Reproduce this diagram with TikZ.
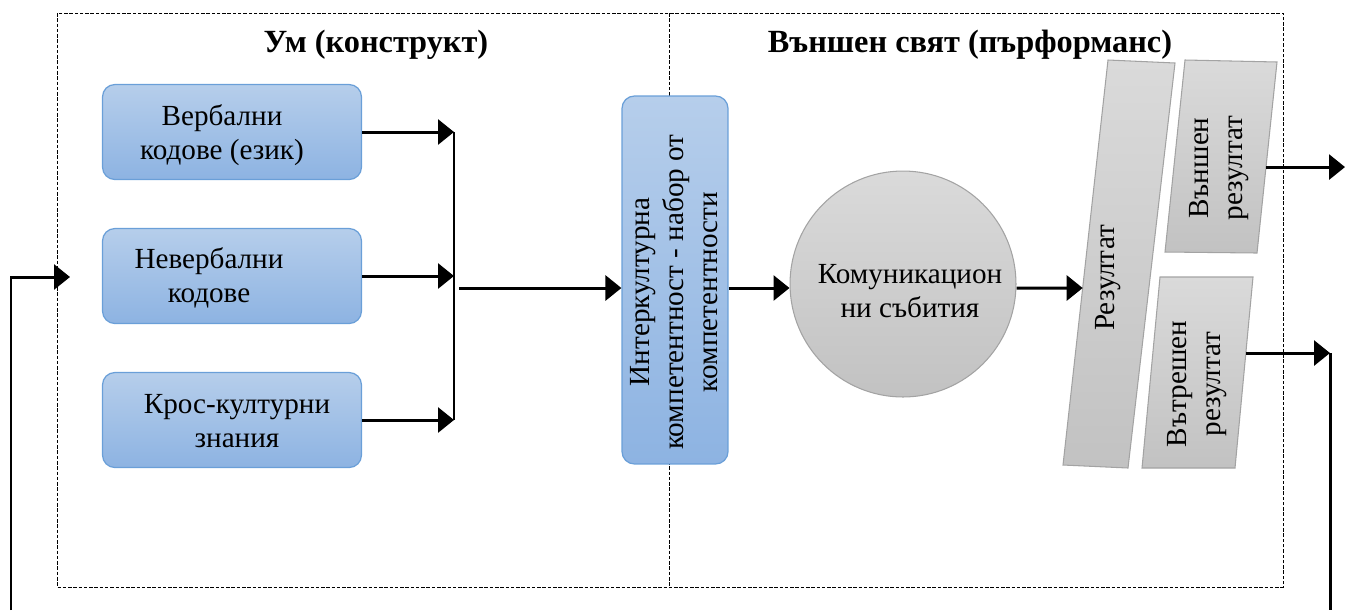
\documentclass[tikz,border=0pt]{standalone}
\usepackage{fontspec}
\setmainfont{Liberation Serif}
\usetikzlibrary{arrows.meta, calc}

\definecolor{boxtop}{HTML}{B6CEEB}
\definecolor{boxbot}{HTML}{8DB3E2}
\definecolor{boxline}{HTML}{6A9FD8}
\definecolor{greytop}{HTML}{DADADA}
\definecolor{greybot}{HTML}{C2C2C2}
\definecolor{greyline}{HTML}{A3A3A3}

\begin{document}
\begin{tikzpicture}[x=0.02cm, y=-0.02cm,
    codebox/.style={draw=boxline, line width=0.7pt, rounded corners=7pt,
        top color=boxtop, bottom color=boxbot,
        minimum width=5.18cm, minimum height=1.9cm},
    lbl/.style={font=\fontsize{16.6}{19.3}\selectfont, align=center, inner sep=0pt},
    head/.style={font=\fontsize{18.4}{21}\selectfont\bfseries, anchor=base},
    slab/.style={draw=greyline, line width=0.6pt, top color=greytop, bottom color=greybot},
    arr/.style={line width=1.7pt, -{Triangle[length=0.32cm, width=0.5cm]}},
    link/.style={line width=1.7pt},
    frame/.style={line width=0.5pt, dash pattern=on 2pt off 1pt}]
    \useasboundingbox (0,0) rectangle (1345,610);

    % Two halves: mind and outer world
    \draw[frame] (57,13) rectangle (1283,587);
    \draw[frame] (669,13) -- (669,587);
    \node[head] at (376,52) {Ум (конструкт)};
    \node[head] at (970,52) {Външен свят (пърформанс)};

    % Main axis and the collecting bar
    \coordinate (axis) at (0,288);
    \coordinate (bus) at (454,0);

    % Codes and knowledge (left column)
    \node[codebox] (verb) at (232,132) {};
    \node[lbl] at (222,135) {Вербални\\кодове (език)};
    \node[codebox] (nonverb) at (232,276) {};
    \node[lbl] at (209,278) {Невербални\\кодове};
    \node[codebox] (cross) at (232,420) {};
    \node[lbl] at (237,421) {Крос-културни\\знания};

    \draw[arr] (verb.east) -- (verb.east -| bus);
    \draw[arr] (nonverb.east) -- (nonverb.east -| bus);
    \draw[arr] (cross.east) -- (cross.east -| bus);
    \draw[link] (verb.east -| bus) -- (cross.east -| bus);

    % Intercultural competence
    \node[codebox, minimum width=2.12cm, minimum height=7.36cm] (icc) at (675,280) {};
    \node[lbl, rotate=90] at (674,292) {Интеркултурна\\компетентност - набор от\\компетентности};
    \draw[arr] ([xshift=3pt]bus |- axis) -- (icc.west |- axis);

    % Communication events
    \node[circle, draw=greyline, line width=0.6pt, top color=greytop, bottom color=greybot,
        minimum size=4.52cm] (events) at (903,284) {};
    \node[lbl] at (910,291) {Комуникацион\\ни събития};
    \draw[arr] (icc.east |- axis) -- (events.west |- axis);

    % Results
    \shade[slab] (1108,60) coordinate (res-nw) -- (1175,63) -- (1128,468)
        -- (1063,465) coordinate (res-sw) -- cycle;
    \node[lbl, rotate=90] at (1108,278) {Резултат};
    \path (res-nw) -- (res-sw) coordinate[pos=0.563] (res-in);

    \shade[slab] (1185,60) -- (1277,62) coordinate (outer-ne) -- (1257,253) coordinate (outer-se)
        -- (1165,252) -- cycle;
    \node[lbl, rotate=90] at (1219,168) {Външен\\резултат};
    \path (outer-ne) -- (outer-se) coordinate[pos=0.55] (outer-out);

    \shade[slab] (1160,277) -- (1253,277) coordinate (inner-ne) -- (1235,468) coordinate (inner-se)
        -- (1142,468) -- cycle;
    \node[lbl, rotate=90] at (1197,384) {Вътрешен\\резултат};
    \path (inner-ne) -- (inner-se) coordinate[pos=0.398] (inner-out);

    \draw[arr] (events.east |- axis) -- (res-in);

    % Outgoing results and feedback loop
    \coordinate (outer-end) at (1345,167);
    \coordinate (loop-r) at (1330,353);
    \coordinate (loop-rb) at (1330,610);
    \coordinate (loop-lb) at (11,610);
    \coordinate (loop-in) at (70,277);
    \draw[arr] (outer-out) -- (outer-end |- outer-out);
    \draw[arr] (inner-out) -- (loop-r |- inner-out);
    \draw[link] (loop-r |- inner-out) -- (loop-rb);
    \draw[arr] (loop-lb) |- (loop-in);
\end{tikzpicture}
\end{document}
